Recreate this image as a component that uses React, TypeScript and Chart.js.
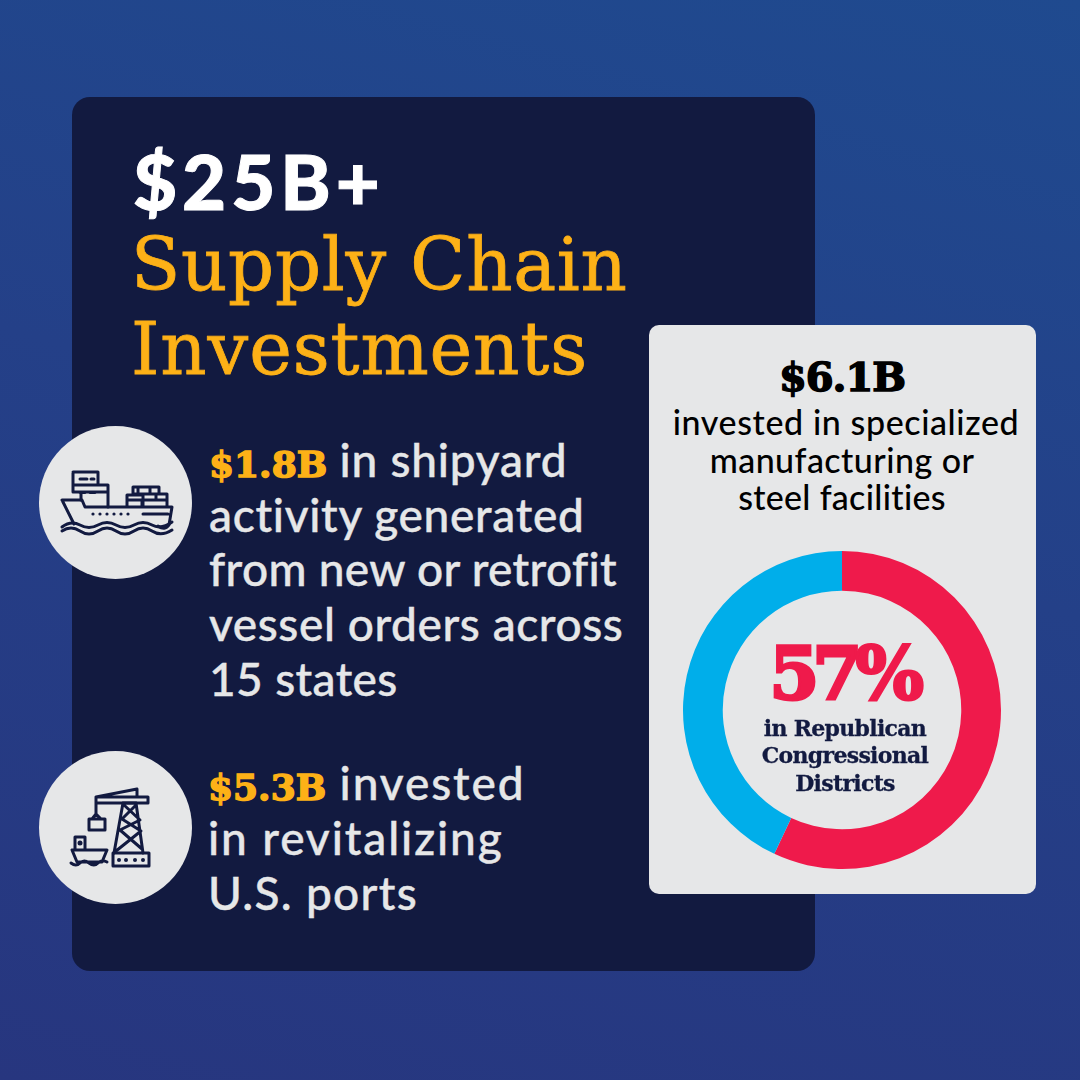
import React, { useEffect, useRef } from "react";
import { Chart, registerables } from "chart.js";

Chart.register(...registerables);

const segmentLabels = ["Republican Congressional Districts", "Other Districts"];
const segmentValues = [57, 43];
const segmentColors = ["#ef1a4b", "#00aeea"];

const NAVY = "#121a40";
const GOLD = "#fdb117";
const LIGHT = "#e6e7e8";
const SANS = "Lato, 'Open Sans', sans-serif";
const SLAB = "'DejaVu Serif', serif";

type LineProps = { x: number; y: number; size: number; color: string; font?: string; weight?: number; center?: boolean; spacing?: number; stroke?: number; lh?: number; children: React.ReactNode };

function Line({ x, y, size, color, font = SANS, weight = 500, center = false, spacing = 0, stroke = 0, lh = 1.2, children }: LineProps) {
  return (
    <div
      style={{
        position: "absolute",
        left: center ? x - 300 : x,
        width: center ? 600 : undefined,
        top: y,
        height: size * lh,
        lineHeight: `${size * lh}px`,
        fontSize: size,
        fontFamily: font,
        fontWeight: weight,
        color,
        letterSpacing: spacing,
        whiteSpace: "nowrap",
        textAlign: center ? "center" : "left",
        fontVariantLigatures: "none",
        WebkitTextStroke: stroke ? `${stroke}px ${color}` : undefined,
      }}
    >
      {children}
    </div>
  );
}

function Lead({ children }: { children: React.ReactNode }) {
  return <span style={{ color: GOLD, fontFamily: SLAB, fontWeight: 900, fontSize: 36, letterSpacing: 0, WebkitTextStroke: `1.5px ${GOLD}` }}>{children}</span>;
}

function Disc({ top }: { top: number }) {
  return <div style={{ position: "absolute", left: 39, top, width: 153, height: 153, borderRadius: "50%", background: LIGHT }} />;
}

function ShipIcon() {
  return (
    <svg style={{ position: "absolute", left: 30, top: 420 }} width={170} height={170} viewBox="0 0 170 170" fill="none" stroke={NAVY} strokeWidth={3} strokeLinejoin="round" strokeLinecap="round">
      <path d="M43 53V72H78V65H43M43 52H68V65M50 59H57M61 59H64M50 72.500H55M60 72.500H65M51 72V80M78 65V87" />
      <path d="M32 80H52L55 87H142L139 105Q135 111 128 106M32 80L44 104M113 87V74H137V87M97 87V75H113M103 74V67H129V74M103 74H129M120 67V74M108 67V74M97 80H137M112 87V80M126 80V74M114 87H137M113 94H138" />
      <path d="M32 107Q41 100 50 105T68 105T86 105T104 105T122 105T142 102" />
      <path d="M32 111Q41 105 50 111T68 111T86 111T104 111T122 111T142 110" />
      <g fill={NAVY} stroke="none">
        {[63, 70, 77, 84, 91, 98].map((cx) => (
          <circle key={cx} cx={cx} cy={94} r={1.6} />
        ))}
      </g>
    </svg>
  );
}

function PortIcon() {
  return (
    <svg style={{ position: "absolute", left: 30, top: 745 }} width={170} height={170} viewBox="0 0 170 170" fill="none" stroke={NAVY} strokeWidth={3} strokeLinejoin="round" strokeLinecap="round">
      <path d="M66 52H118V58H66ZM66 52L107 44V52M66 58V69M59 74H75V85H59ZM62 74L66 69L71 74" />
      <path d="M93 58L84 108M106 58L113 108M93 58H106M94 60L110 75L90 85L112 104M106 60L92 74L111 86L86 106" />
      <path d="M83 108H119V121H83Z" />
      <path d="M45 92H55V105H45ZM42 105H77L72 117H47ZM41 118Q46 122 50 118T59 118T68 118T77 117" />
      <g fill={NAVY} stroke="none">
        <circle cx={50} cy={98} r={2.500} />
        {[89, 96, 105, 113].map((cx) => (
          <circle key={cx} cx={cx} cy={115} r={2} />
        ))}
      </g>
    </svg>
  );
}

export default function App() {
  const canvasRef = useRef<HTMLCanvasElement>(null);

  useEffect(() => {
    document.body.style.margin = "0";
    const chart = new Chart(canvasRef.current!, {
      type: "doughnut",
      data: {
        labels: segmentLabels,
        datasets: [{ data: segmentValues, backgroundColor: segmentColors, borderWidth: 0 }],
      },
      options: {
        animation: false,
        responsive: false,
        cutout: "75%",
        layout: { padding: 0 },
        plugins: { legend: { display: false }, tooltip: { enabled: false } },
      },
    });
    return () => chart.destroy();
  }, []);

  const bodyProps = { size: 46, color: LIGHT, spacing: 0.6, stroke: 0.4 };
  const smallProps = { size: 22, color: NAVY, font: SLAB, weight: 800, center: true, spacing: -0.7, stroke: 0.3 };
  const cardProps = { size: 34, color: "#000000", center: true, spacing: 0.6 };

  return (
    <div
      style={{
        position: "relative",
        width: 1080,
        height: 1080,
        overflow: "hidden",
        background: "linear-gradient(195deg, #1f4a8f 0%, #244088 45%, #27367f 100%)",
      }}
    >
      <div style={{ position: "absolute", left: 72, top: 97, width: 743, height: 874, borderRadius: 18, background: NAVY }} />

      <Line x={133} y={135} size={76} color="#ffffff" weight={900} spacing={5} stroke={1}>$25B+</Line>
      <Line x={131} y={222} size={72} color={GOLD} font={SLAB} weight={400} spacing={0.7} stroke={0.8}>Supply Chain</Line>
      <Line x={131} y={306} size={72} color={GOLD} font={SLAB} weight={400} spacing={0.9} stroke={0.8}>Investments</Line>

      <Disc top={426} />
      <ShipIcon />
      <Line x={209} y={432} {...bodyProps} spacing={0.8}><Lead>$1.8B</Lead> in shipyard</Line>
      <Line x={209} y={487} {...bodyProps} spacing={0.7}>activity generated</Line>
      <Line x={209} y={541} {...bodyProps} spacing={0.35}>from new or retrofit</Line>
      <Line x={209} y={596} {...bodyProps}>vessel orders across</Line>
      <Line x={209} y={651} {...bodyProps} spacing={0.4}>15 states</Line>

      <Disc top={751} />
      <PortIcon />
      <Line x={208} y={755} {...bodyProps} spacing={1.9}><Lead>$5.3B</Lead> invested</Line>
      <Line x={208} y={810} {...bodyProps} spacing={1.9}>in revitalizing</Line>
      <Line x={208} y={865} {...bodyProps} spacing={1.3}>U.S. ports</Line>

      <div style={{ position: "absolute", left: 649, top: 325, width: 387, height: 569, borderRadius: 10, background: LIGHT }} />
      <Line x={842} y={353} size={40} color="#000000" font={SLAB} weight={900} center spacing={-1} stroke={1.5}>$6.1B</Line>
      <Line x={846} y={402} {...cardProps}>invested in specialized</Line>
      <Line x={842} y={440} {...cardProps} spacing={0.45}>manufacturing or</Line>
      <Line x={842} y={477} {...cardProps} spacing={0.3}>steel facilities</Line>

      <canvas ref={canvasRef} width={318} height={318} style={{ position: "absolute", left: 683, top: 551, width: 318, height: 318 }} />

      <Line x={843} y={638} size={72} color="#ef1a4b" font={SLAB} weight={900} center spacing={-7} stroke={3} lh={1}>57%</Line>
      <Line x={845} y={715} {...smallProps}>in Republican</Line>
      <Line x={845} y={742} {...smallProps}>Congressional</Line>
      <Line x={845} y={770} {...smallProps}>Districts</Line>
    </div>
  );
}
